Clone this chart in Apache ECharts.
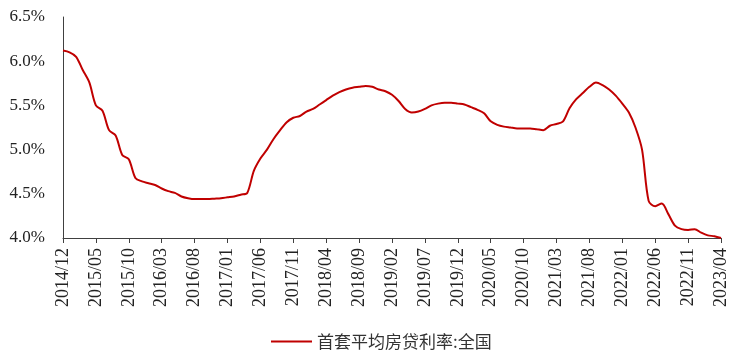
<!DOCTYPE html>
<html><head><meta charset="utf-8">
<script src="https://cdn.jsdelivr.net/npm/echarts@6/dist/echarts.min.js"></script>
<style>html,body{margin:0;padding:0;background:#fff}#c{width:734px;height:353px}</style>
</head><body><div id="c"></div>
<script>
// Monthly categories 2014/12 .. 2023/04
const startYear = 2014, startMonth = 12, monthCount = 101;
const categories = [];
for (let i = 0; i < monthCount; i++) {
  const m0 = startMonth - 1 + i;
  const y = startYear + Math.floor(m0 / 12);
  const m = (m0 % 12) + 1;
  categories.push(y + '/' + (m < 10 ? '0' + m : m));
}
const seriesName = '首套平均房贷利率:全国';
const rateValues = [
  6.12, 6.10, 6.05, 5.90, 5.76, 5.50, 5.44, 5.22, 5.16, 4.94,
  4.89, 4.68, 4.64, 4.62, 4.60, 4.56, 4.53, 4.51, 4.47, 4.45,
  4.44, 4.44, 4.44, 4.445, 4.45, 4.46, 4.47, 4.49, 4.51, 4.76,
  4.90, 5.00, 5.12, 5.22, 5.31, 5.36, 5.38, 5.43, 5.46, 5.51,
  5.56, 5.61, 5.65, 5.68, 5.70, 5.71, 5.72, 5.71, 5.68, 5.66,
  5.62, 5.55, 5.46, 5.42, 5.43, 5.46, 5.50, 5.52, 5.53, 5.53,
  5.52, 5.51, 5.48, 5.45, 5.41, 5.32, 5.28, 5.26, 5.25, 5.24,
  5.24, 5.24, 5.23, 5.22, 5.27, 5.29, 5.32, 5.47, 5.57, 5.64,
  5.71, 5.76, 5.73, 5.68, 5.61, 5.52, 5.42, 5.25, 5.00, 4.42,
  4.36, 4.39, 4.27, 4.14, 4.10, 4.09, 4.10, 4.06, 4.03, 4.02,
  4.00
];
const yMin = 4.0, yMax = 6.5, yStep = 0.5;

const chart = echarts.init(document.getElementById('c'));
chart.setOption({
  animation: false,
  backgroundColor: '#fff',
  grid: { left: 63, right: 13, top: 17, bottom: 115, containLabel: false },
  xAxis: {
    type: 'category', data: categories, boundaryGap: false,
    axisLine: { lineStyle: { color: '#404040', width: 1 } },
    axisTick: { interval: 4, length: 5, lineStyle: { color: '#404040' } },
    axisLabel: { interval: 4, rotate: 90, margin: 10, color: '#222',
      fontFamily: 'Liberation Serif', fontSize: 18 },
    splitLine: { show: false }
  },
  yAxis: {
    type: 'value', min: yMin, max: yMax, interval: yStep,
    axisLine: { show: true, lineStyle: { color: '#404040', width: 1 } },
    axisTick: { show: false },
    splitLine: { show: false },
    axisLabel: { margin: 18, color: '#222', fontFamily: 'Liberation Serif', fontSize: 17,
      formatter: v => v.toFixed(1) + '%' }
  },
  legend: {
    left: 266, top: 328,
    icon: 'rect', itemWidth: 41, itemHeight: 2, itemGap: 6,
    textStyle: { fontFamily: 'Noto Sans CJK SC', fontSize: 17, color: '#333' },
    data: [seriesName]
  },
  series: [{
    name: seriesName, type: 'line', data: rateValues,
    showSymbol: false, smooth: 0.3,
    lineStyle: { color: '#C00000', width: 2 },
    itemStyle: { color: '#C00000' }
  }]
});
</script></body></html>
